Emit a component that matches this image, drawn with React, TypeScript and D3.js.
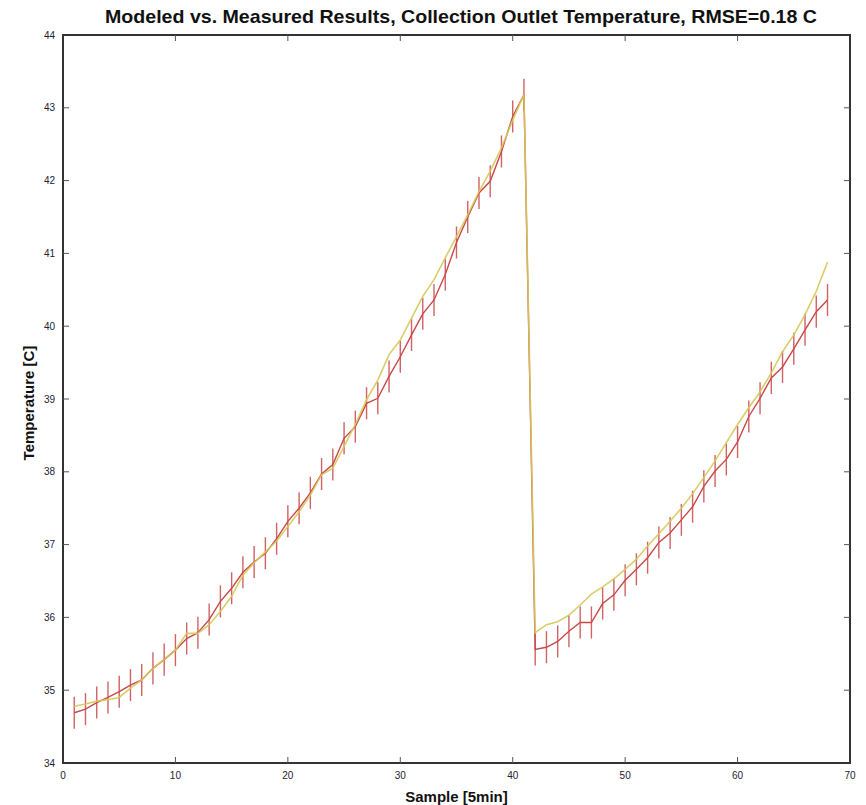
import { useEffect, useRef } from 'react';
import * as d3 from 'd3';

// measured outlet temperature (red, with error bars), samples 1..68
const measured = [
  34.69, 34.74, 34.83, 34.9, 34.98, 35.07, 35.14, 35.3, 35.42, 35.55,
  35.71, 35.79, 35.97, 36.22, 36.4, 36.62, 36.76, 36.88, 37.08, 37.32,
  37.5, 37.71, 37.97, 38.1, 38.46, 38.62, 38.94, 39.01, 39.31, 39.58,
  39.88, 40.17, 40.36, 40.71, 41.15, 41.5, 41.83, 41.99, 42.4, 42.88,
  43.18, 35.56, 35.59, 35.67, 35.81, 35.93, 35.93, 36.19, 36.31, 36.51,
  36.66, 36.82, 37.03, 37.16, 37.34, 37.52, 37.8, 38.01, 38.17, 38.41,
  38.76, 39.01, 39.29, 39.44, 39.69, 39.95, 40.2, 40.36,
];

// modeled outlet temperature (yellow)
const modeled = [
  34.78, 34.81, 34.85, 34.87, 34.9, 35.03, 35.14, 35.3, 35.42, 35.55,
  35.78, 35.78, 35.9, 36.08, 36.29, 36.58, 36.75, 36.9, 37.05, 37.25,
  37.45, 37.68, 37.96, 38.05, 38.35, 38.65, 38.99, 39.26, 39.61, 39.81,
  40.11, 40.41, 40.64, 40.94, 41.23, 41.53, 41.85, 42.13, 42.45, 42.83,
  43.18, 35.79, 35.9, 35.94, 36.03, 36.17, 36.32, 36.42, 36.53, 36.66,
  36.8, 36.98, 37.15, 37.32, 37.5, 37.7, 37.92, 38.15, 38.4, 38.65,
  38.88, 39.1, 39.36, 39.65, 39.88, 40.16, 40.48, 40.88,
];

const measurementError = 0.22;

const xTicks = [0, 10, 20, 30, 40, 50, 60, 70];
const yTicks = [34, 35, 36, 37, 38, 39, 40, 41, 42, 43, 44];

const title = 'Modeled vs. Measured Results, Collection Outlet Temperature, RMSE=0.18 C';
const xLabel = 'Sample [5min]';
const yLabel = 'Temperature [C]';

export default function App() {
  const svgRef = useRef<SVGSVGElement>(null);

  useEffect(() => {
    if (!svgRef.current) return;
    const svg = d3.select(svgRef.current);
    svg.selectAll('*').remove();

    const width = 866;
    const height = 805;
    const margin = { top: 35, right: 16, bottom: 42, left: 63 };
    const w = width - margin.left - margin.right;
    const h = height - margin.top - margin.bottom;

    const font = 'Liberation Sans, Arial, sans-serif';
    const red = '#c94848';
    const yellow = '#d6c85a';

    const g = svg.append('g').attr('transform', `translate(${margin.left},${margin.top})`);

    const x = d3.scaleLinear().domain([0, 70]).range([0, w]);
    const y = d3.scaleLinear().domain([34, 44]).range([h, 0]);

    // error bars
    g.append('g')
      .selectAll('line')
      .data(measured)
      .join('line')
      .attr('x1', (_, i) => x(i + 1)).attr('x2', (_, i) => x(i + 1))
      .attr('y1', d => y(d - measurementError)).attr('y2', d => y(d + measurementError))
      .attr('stroke', red)
      .attr('stroke-width', 1.4)
      .attr('opacity', 0.85);

    const line = d3.line<number>()
      .x((_, i) => x(i + 1))
      .y(d => y(d));

    g.append('path')
      .datum(measured)
      .attr('d', line)
      .attr('fill', 'none')
      .attr('stroke', red)
      .attr('stroke-width', 1.4);

    g.append('path')
      .datum(modeled)
      .attr('d', line)
      .attr('fill', 'none')
      .attr('stroke', yellow)
      .attr('stroke-width', 1.6)
      .attr('opacity', 0.9);

    // frame
    g.append('rect')
      .attr('width', w).attr('height', h)
      .attr('fill', 'none')
      .attr('stroke', '#333')
      .attr('stroke-width', 2);

    const tickLen = 6;
    const tickColor = '#555';

    // x ticks: bottom (up) and top (down), skip corners
    xTicks.slice(1, -1).forEach(t => {
      g.append('line')
        .attr('x1', x(t)).attr('x2', x(t))
        .attr('y1', h).attr('y2', h - tickLen)
        .attr('stroke', tickColor).attr('stroke-width', 1);
      g.append('line')
        .attr('x1', x(t)).attr('x2', x(t))
        .attr('y1', 0).attr('y2', tickLen)
        .attr('stroke', tickColor).attr('stroke-width', 1);
    });
    yTicks.slice(1, -1).forEach(t => {
      g.append('line')
        .attr('x1', 0).attr('x2', tickLen)
        .attr('y1', y(t)).attr('y2', y(t))
        .attr('stroke', tickColor).attr('stroke-width', 1);
      g.append('line')
        .attr('x1', w).attr('x2', w - tickLen)
        .attr('y1', y(t)).attr('y2', y(t))
        .attr('stroke', tickColor).attr('stroke-width', 1);
    });

    // tick labels
    g.append('g')
      .selectAll('text')
      .data(xTicks)
      .join('text')
      .attr('x', d => x(d)).attr('y', h + 16)
      .attr('text-anchor', 'middle')
      .attr('font-family', font).attr('font-size', '10px')
      .attr('fill', '#223')
      .text(d => d);

    g.append('g')
      .selectAll('text')
      .data(yTicks)
      .join('text')
      .attr('x', -8).attr('y', d => y(d) + 3.5)
      .attr('text-anchor', 'end')
      .attr('font-family', font).attr('font-size', '10px')
      .attr('fill', '#223')
      .text(d => d);

    // axis labels
    g.append('text')
      .attr('x', w / 2).attr('y', h + 39)
      .attr('text-anchor', 'middle')
      .attr('font-family', font).attr('font-size', '15px').attr('font-weight', 'bold')
      .attr('fill', '#111')
      .text(xLabel);

    g.append('text')
      .attr('transform', 'rotate(-90)')
      .attr('x', -(h / 2 + 4)).attr('y', -29)
      .attr('text-anchor', 'middle')
      .attr('font-family', font).attr('font-size', '15px').attr('font-weight', 'bold')
      .attr('fill', '#111')
      .text(yLabel);

    // title
    svg.append('text')
      .attr('x', 461).attr('y', 23)
      .attr('text-anchor', 'middle')
      .attr('font-family', font).attr('font-size', '19px').attr('font-weight', 'bold')
      .attr('textLength', 712).attr('lengthAdjust', 'spacingAndGlyphs')
      .attr('fill', '#111')
      .text(title);
  }, []);

  return (
    <svg
      ref={svgRef}
      width={866}
      height={805}
      style={{ position: 'absolute', left: 0, top: 0, background: '#fff' }}
    />
  );
}
